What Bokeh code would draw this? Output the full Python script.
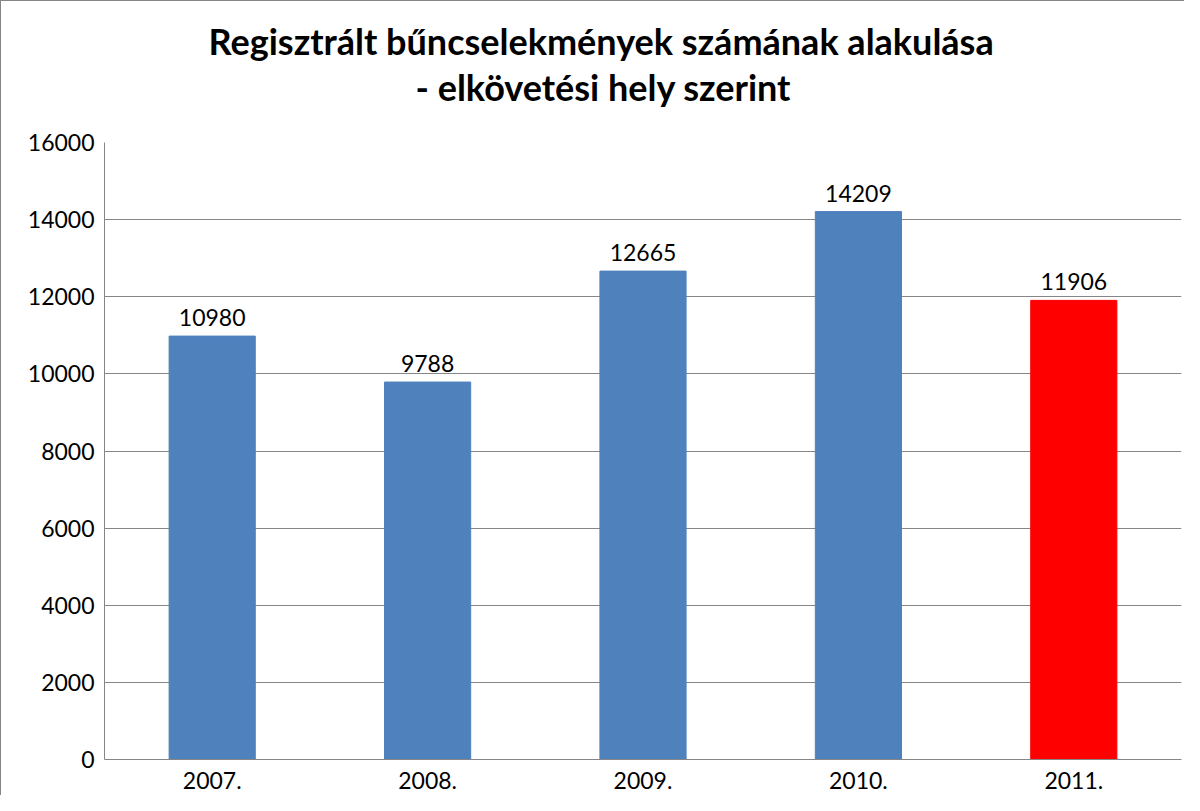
from bokeh.plotting import figure
from bokeh.models import ColumnDataSource, FactorRange, Range1d, FixedTicker, Title
from bokeh.core.properties import value
from bokeh.embed import file_html
from bokeh.resources import INLINE

years = ["2007.", "2008.", "2009.", "2010.", "2011."]
counts = [10980, 9788, 12665, 14209, 11906]
bar_colors = ["#4F81BD", "#4F81BD", "#4F81BD", "#4F81BD", "#FF0000"]
y_ticks = [0, 2000, 4000, 6000, 8000, 10000, 12000, 14000, 16000]
title_line1 = "Regisztrált bűncselekmények számának alakulása"
title_line2 = "- elkövetési hely szerint"

FONT = "Lato"
GRID = "#868686"

src = ColumnDataSource(dict(x=years, top=counts, color=bar_colors,
                            label=[str(c) for c in counts]))

p = figure(x_range=FactorRange(*years), y_range=Range1d(0, 16000),
           width=1184, height=795, output_backend="svg", toolbar_location=None,
           title=None, min_border_left=103, min_border_right=4,
           min_border_top=141, min_border_bottom=37)
p.styles = {"border-top": f"1px solid {GRID}", "border-left": f"1px solid {GRID}"}

p.vbar(x="x", top="top", width=0.4, color="color", source=src)
p.text(x="x", y="top", text="label", source=src, text_align="center",
       text_baseline="bottom", y_offset=-10, text_font=value(FONT),
       text_font_size="23px", text_color="black")

# spacer between the title block and the plot frame
p.add_layout(Title(text=" ", text_font_size="1px", standoff=31), "above")
p.add_layout(Title(text=title_line2, align="left", offset=311, text_font=FONT,
                   text_font_style="bold", text_font_size="36px", standoff=0,
                   text_color="black"), "above")
p.add_layout(Title(text=title_line1, align="left", offset=104, text_font=FONT,
                   text_font_style="bold", text_font_size="36px", standoff=0,
                   text_color="black"), "above")

p.outline_line_color = None
p.xgrid.grid_line_color = None
p.ygrid.grid_line_color = GRID
p.ygrid.grid_line_width = 1
p.yaxis.ticker = FixedTicker(ticks=y_ticks)
for ax in (p.xaxis, p.yaxis):
    ax.axis_line_color = GRID
    ax.major_tick_line_color = None
    ax.minor_tick_line_color = None
    ax.major_tick_in = 0
    ax.major_tick_out = 0
    ax.major_label_text_font = FONT
    ax.major_label_text_font_size = "23px"
    ax.major_label_text_color = "black"
p.yaxis.major_label_standoff = 10
p.xaxis.major_label_standoff = 12
p.x_range.range_padding = 0

open("out.html", "w").write(file_html(p, INLINE))
